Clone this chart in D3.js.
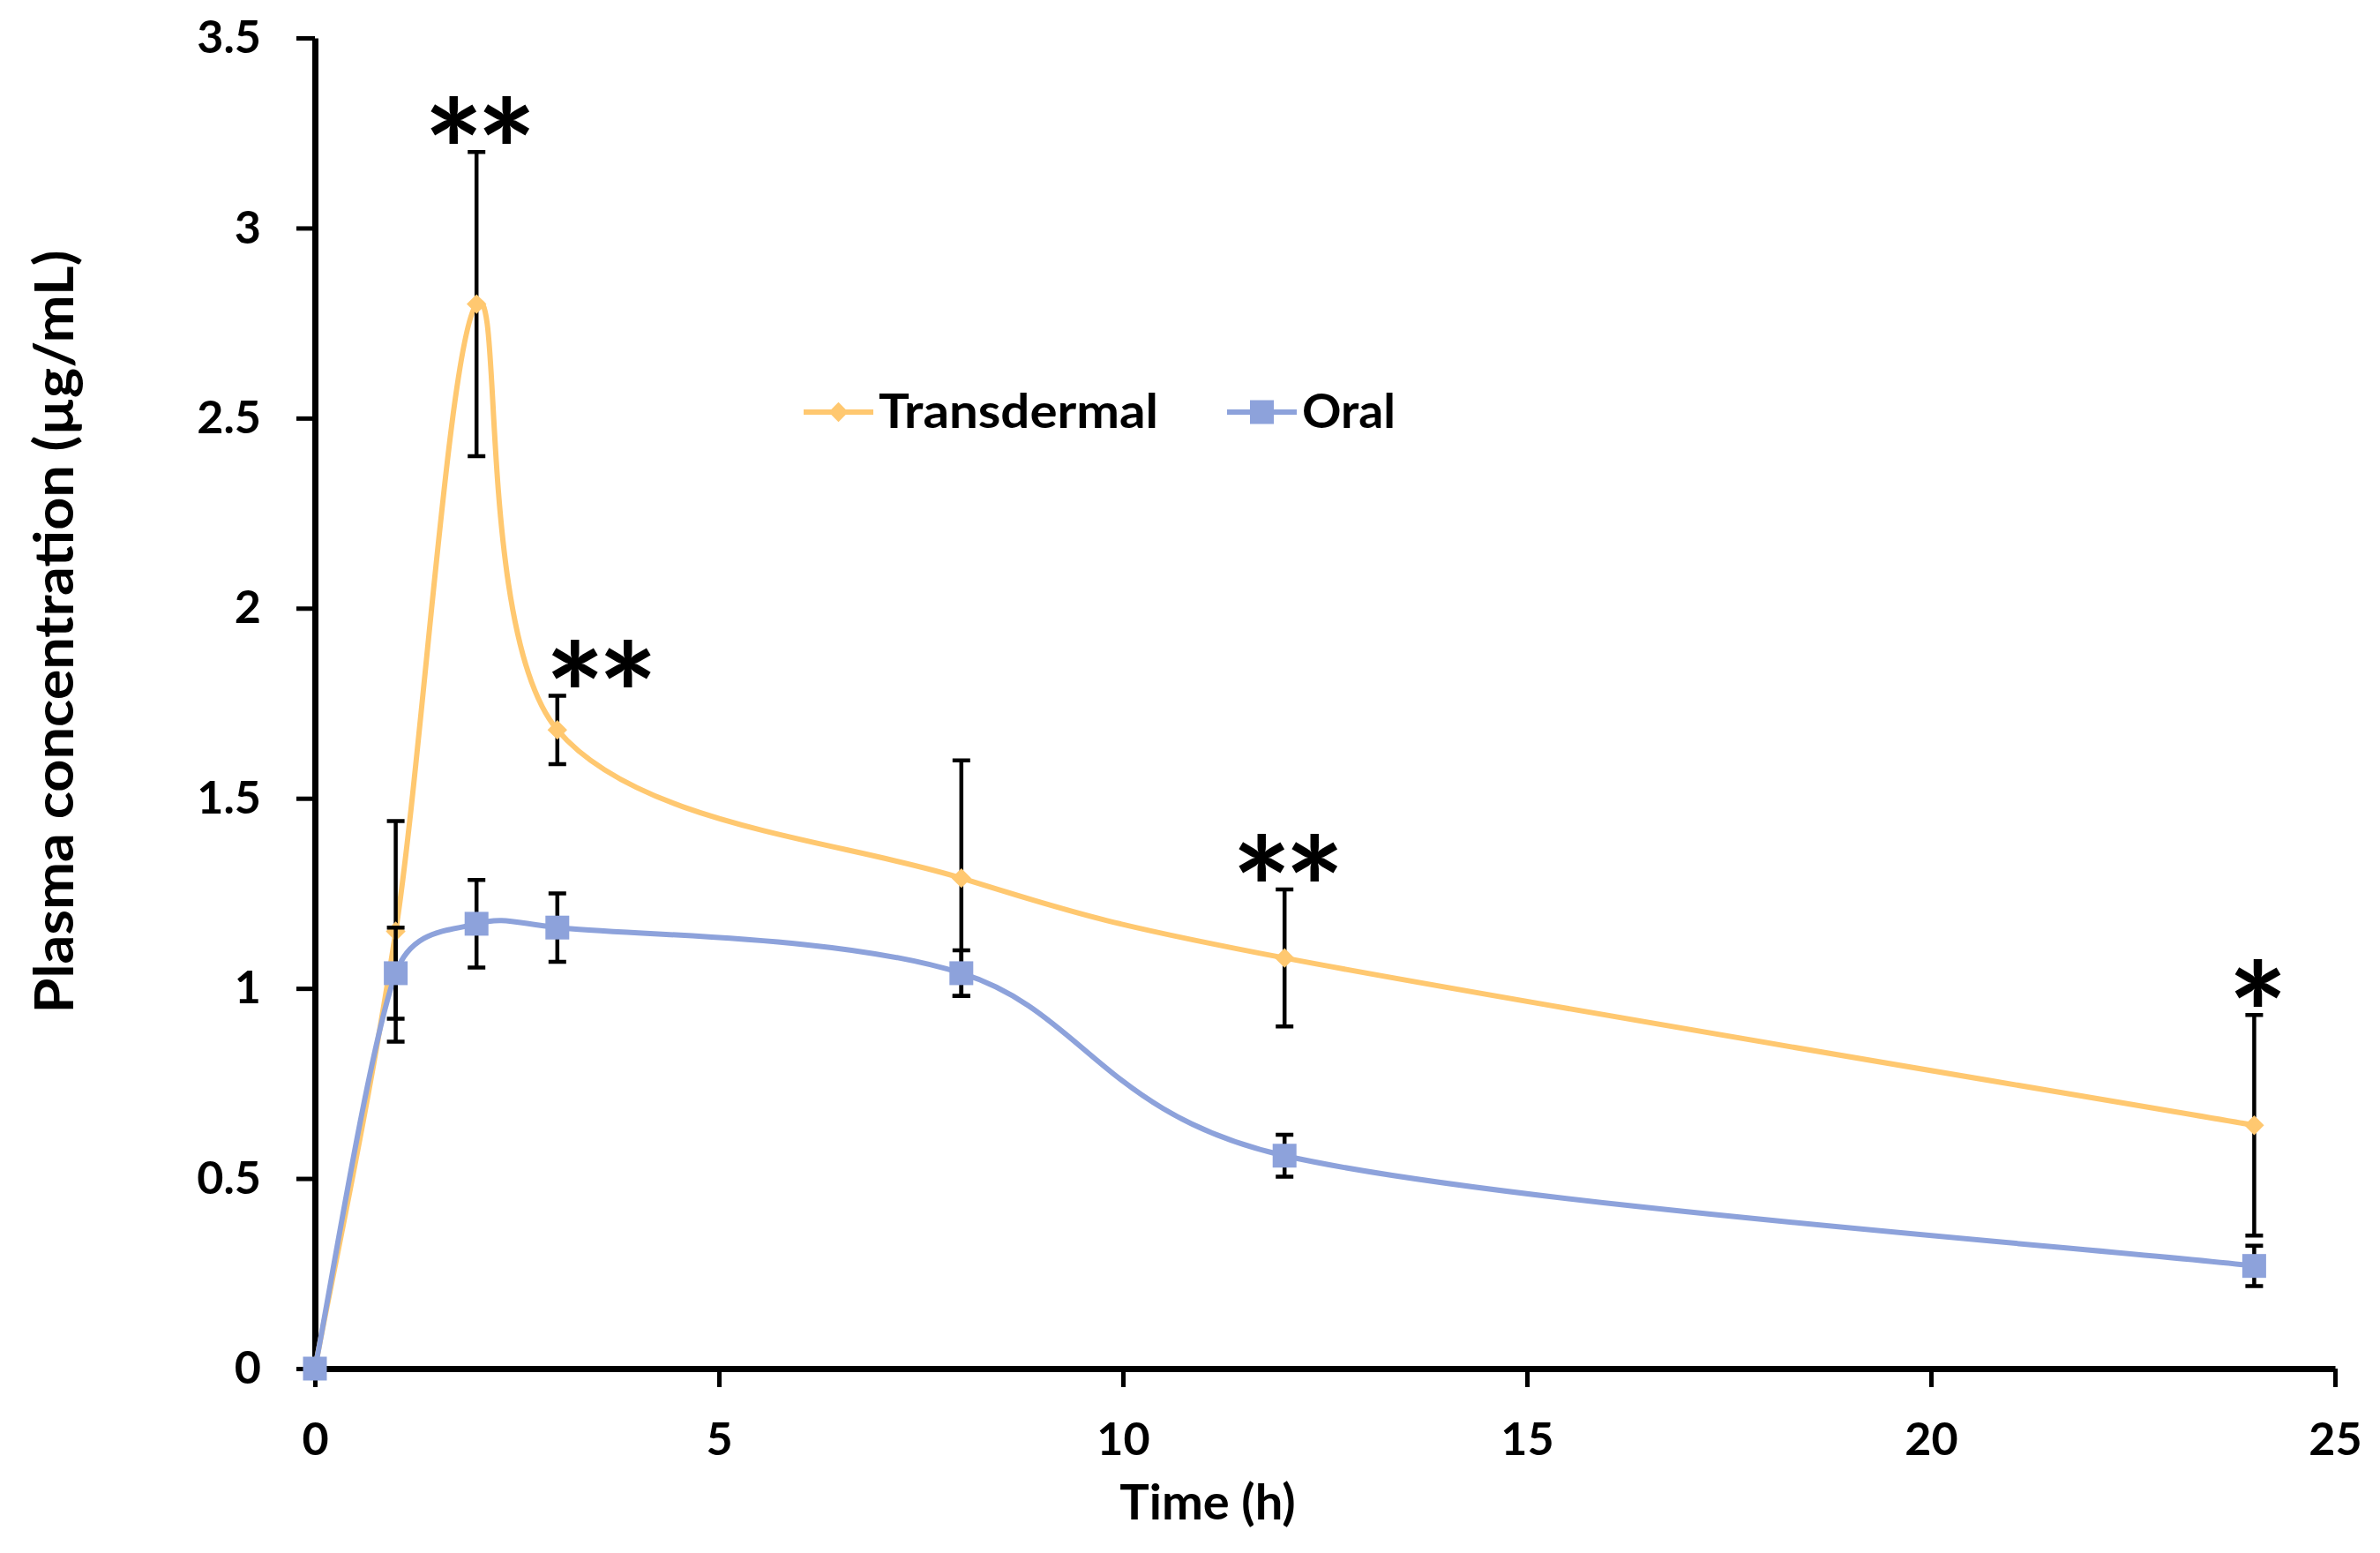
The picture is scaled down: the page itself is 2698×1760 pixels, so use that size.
<!doctype html>
<html lang="en">
<head>
    <meta charset="UTF-8">
    <title>Plasma concentration</title>
    <style>
        body { margin: 0; background: #fff; }
        text { font-family: Lato, "Noto Sans", sans-serif; font-weight: bold; fill: #000; }
        .axis path, .axis line { stroke: #000; }
    </style>
</head>
<body>
    <svg width="2698" height="1760"></svg>
    <script src="https://cdn.jsdelivr.net/npm/d3@7"></script>
    <script>
        // sampling times (h)
        const times = [0, 1, 2, 3, 8, 12, 24];
        // mean plasma concentration and error (µg/mL)
        const transdermal = [0, 1.15, 2.80, 1.68, 1.29, 1.08, 0.64];
        const transdermalErr = [0, 0.29, 0.40, 0.09, 0.31, 0.18, 0.29];
        const oral = [0, 1.04, 1.17, 1.16, 1.04, 0.56, 0.27];
        const oralErr = [0, 0.12, 0.115, 0.09, 0.06, 0.055, 0.053];
        // significance marks over transdermal points
        const sigTimes = [2, 3, 12, 24];
        const sigLabels = ["**", "**", "**", "*"];
        const xTicks = [0, 5, 10, 15, 20, 25];
        const yTicks = [0, 0.5, 1, 1.5, 2, 2.5, 3, 3.5];

        const svg = d3.select('svg');
        const x = d3.scaleLinear().domain([0, 25]).range([357, 2647]);
        const y = d3.scaleLinear().domain([0, 3.5]).range([1551, 43]);

        const orange = "#FFC870", blue = "#8DA2DB";

        // axes
        const xAxis = svg.append("g").attr("class", "axis")
            .attr("transform", "translate(0," + y(0) + ")")
            .call(d3.axisBottom(x).tickValues(xTicks).tickSize(21).tickPadding(40).tickSizeOuter(0));
        const yAxis = svg.append("g").attr("class", "axis")
            .attr("transform", "translate(" + x(0) + ",0)")
            .call(d3.axisLeft(y).tickValues(yTicks).tickSize(21).tickPadding(40).tickSizeOuter(0)
                .tickFormat(d => String(d)));
        svg.selectAll(".axis path").attr("stroke-width", 7);
        svg.selectAll(".axis line").attr("stroke-width", 5);
        svg.selectAll(".axis text").attr("font-size", 52).attr("font-family", "Lato");
        xAxis.selectAll("text").attr("dy", "0.72em");

        // axis titles
        svg.append("text")
            .attr("x", 1369).attr("y", 1722)
            .attr("text-anchor", "middle")
            .attr("font-size", 56)
            .text("Time (h)");
        svg.append("text")
            .attr("transform", "translate(83,716) rotate(-90)")
            .attr("text-anchor", "middle")
            .attr("font-size", 62)
            .attr("textLength", 865).attr("lengthAdjust", "spacingAndGlyphs")
            .text("Plasma concentration (µg/mL)");

        // spreadsheet-style smoothing: Catmull-Rom tangents (1/6),
        // with the handle capped at half the segment length
        function smoothLine(values) {
            const pts = values.map((v, i) => [x(times[i]), y(v)]);
            const n = pts.length;
            const tan = i => {
                const a = pts[Math.max(i - 1, 0)], b = pts[Math.min(i + 1, n - 1)];
                return [b[0] - a[0], b[1] - a[1]];
            };
            const p = d3.path();
            p.moveTo(pts[0][0], pts[0][1]);
            for (let i = 0; i < n - 1; i++) {
                const a = pts[i], b = pts[i + 1];
                const d = Math.hypot(b[0] - a[0], b[1] - a[1]);
                const t0 = tan(i), t1 = tan(i + 1);
                const f0 = Math.min(1 / 6, d / (2 * Math.hypot(t0[0], t0[1])));
                const f1 = Math.min(1 / 6, d / (2 * Math.hypot(t1[0], t1[1])));
                p.bezierCurveTo(a[0] + t0[0] * f0, a[1] + t0[1] * f0,
                    b[0] - t1[0] * f1, b[1] - t1[1] * f1, b[0], b[1]);
            }
            return p.toString();
        }

        const diamond = d3.symbol().type(d3.symbolSquare).size(250);
        const square = d3.symbol().type(d3.symbolSquare).size(729);

        function drawSeries(values, errs, color, marker, rotate) {
            const g = svg.append("g");
            g.append("path")
                .attr("d", smoothLine(values))
                .attr("fill", "none")
                .attr("stroke", color)
                .attr("stroke-width", 6);
            const pts = values.map((v, i) => ({t: times[i], v: v, e: errs[i]}));
            g.selectAll(".err").data(pts.filter(d => d.e > 0))
                .enter().append("path")
                .attr("d", d => {
                    const cx = x(d.t), top = y(d.v + d.e), bot = y(d.v - d.e);
                    return "M" + cx + "," + top + "V" + bot +
                        "M" + (cx - 10) + "," + top + "H" + (cx + 10) +
                        "M" + (cx - 10) + "," + bot + "H" + (cx + 10);
                })
                .attr("stroke", "#000")
                .attr("stroke-width", 4.5)
                .attr("fill", "none");
            g.selectAll(".mk").data(pts).enter().append("path")
                .attr("d", marker)
                .attr("transform", d => "translate(" + x(d.t) + "," + y(d.v) + ") rotate(" + rotate + ")")
                .attr("fill", color);
        }

        drawSeries(transdermal, transdermalErr, orange, diamond, 45);
        drawSeries(oral, oralErr, blue, square, 0);

        // significance asterisks
        sigTimes.forEach((t, k) => {
            const i = times.indexOf(t);
            const top = y(transdermal[i] + transdermalErr[i]);
            svg.append("text")
                .attr("x", x(t) + (t === 3 ? 46 : 0))
                .attr("y", top + 58)
                .attr("text-anchor", "middle")
                .attr("font-size", 160)
                .attr("font-weight", 900)
                .attr("letter-spacing", -8)
                .text(sigLabels[k]);
        });

        // legend
        const legend = svg.append("g").attr("transform", "translate(0,467)");
        const items = [
            {label: "Transdermal", color: orange, marker: diamond, rotate: 45, x0: 911, w: 317},
            {label: "Oral", color: blue, marker: square, rotate: 0, x0: 1391, w: 106}
        ];
        items.forEach(it => {
            legend.append("line")
                .attr("x1", it.x0).attr("x2", it.x0 + 79)
                .attr("stroke", it.color).attr("stroke-width", 6);
            legend.append("path")
                .attr("d", it.marker)
                .attr("transform", "translate(" + (it.x0 + 39.5) + ",0) rotate(" + it.rotate + ")")
                .attr("fill", it.color);
            legend.append("text")
                .attr("x", it.x0 + 85).attr("y", 18)
                .attr("font-size", 53)
                .attr("textLength", it.w).attr("lengthAdjust", "spacingAndGlyphs")
                .text(it.label);
        });
    </script>
</body>
</html>
